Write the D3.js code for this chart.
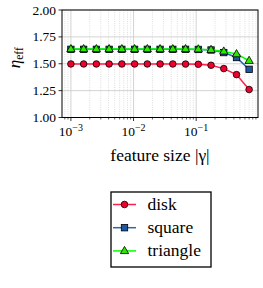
<!DOCTYPE html>
<html>
<head>
<meta charset="utf-8">
<script src="https://cdn.jsdelivr.net/npm/d3@7"></script>
<style>
  html, body { margin: 0; padding: 0; background: #fff; }
  svg text { font-family: "Liberation Serif", "Times New Roman", serif; fill: #000; }
</style>
</head>
<body>
<svg id="chart" width="263" height="288"></svg>
<script>
// feature sizes |gamma|
const featureSize = [0.001, 0.0015973, 0.0025514, 0.0040754, 0.0065097, 0.010398,
    0.016609, 0.02653, 0.042376, 0.067688, 0.10812, 0.1727, 0.27585, 0.44062, 0.7];

const diskEta = [1.498, 1.498, 1.498, 1.498, 1.498, 1.498, 1.498, 1.498, 1.498, 1.497,
    1.495, 1.486, 1.455, 1.399, 1.26];
const squareEta = [1.634, 1.634, 1.634, 1.634, 1.634, 1.634, 1.634, 1.634, 1.634, 1.634,
    1.633, 1.628, 1.604, 1.558, 1.448];
const triangleEta = [1.637, 1.637, 1.637, 1.637, 1.637, 1.637, 1.637, 1.637, 1.637, 1.637,
    1.635, 1.63, 1.615, 1.59, 1.528];

const yTicks = [1.0, 1.25, 1.5, 1.75, 2.0];
const xMajorTicks = [1e-3, 1e-2, 1e-1];
const xTickExp = ["\u22123", "\u22122", "\u22121"];

const series = [
    { name: "disk", values: diskEta, line: "#ff1f4b", face: "#f0002d", marker: "circle" },
    { name: "square", values: squareEta, line: "#2c68ad", face: "#1d58a5", marker: "square" },
    { name: "triangle", values: triangleEta, line: "#00ff00", face: "#2ee600", marker: "triangle" }
];

/***
 * Canvas setup
 */
const svg = d3.select("#chart");
const margin = { top: 10, right: 5, bottom: 170.5, left: 62 };
const width = 263, height = 288;

const xScale = d3.scaleLog()
    .domain([Math.pow(10, -3.142), Math.pow(10, -0.013)])
    .range([margin.left, width - margin.right]);
const yScale = d3.scaleLinear()
    .domain([1.0, 2.0])
    .range([height - margin.bottom, margin.top]);

const x0 = xScale.range()[0], x1 = xScale.range()[1];
const y0 = yScale.range()[0], y1 = yScale.range()[1];

// minor tick values 2..9 x 10^k
const xMinor = [];
[-4, -3, -2, -1].forEach(e => {
    for (let m = 2; m <= 9; m++) {
        const v = m * Math.pow(10, e);
        if (v > xScale.domain()[0] && v < xScale.domain()[1]) xMinor.push(v);
    }
});

/***
 * Grid
 */
const grid = svg.append("g");
grid.selectAll("line.minor")
    .data(xMinor)
    .join("line")
    .attr("class", "minor")
    .attr("x1", d => xScale(d)).attr("x2", d => xScale(d))
    .attr("y1", y1).attr("y2", y0)
    .attr("stroke", "#c8c8c8")
    .attr("stroke-width", 0.6)
    .attr("stroke-dasharray", "1,1.2");
grid.selectAll("line.xmajor")
    .data(xMajorTicks)
    .join("line")
    .attr("class", "xmajor")
    .attr("x1", d => xScale(d)).attr("x2", d => xScale(d))
    .attr("y1", y1).attr("y2", y0)
    .attr("stroke", "#c8c8c8")
    .attr("stroke-width", 0.8);
grid.selectAll("line.ymajor")
    .data(yTicks)
    .join("line")
    .attr("class", "ymajor")
    .attr("x1", x0).attr("x2", x1)
    .attr("y1", d => yScale(d)).attr("y2", d => yScale(d))
    .attr("stroke", "#c8c8c8")
    .attr("stroke-width", 0.8);

/***
 * Series
 */
const line = d3.line()
    .x((d, i) => xScale(featureSize[i]))
    .y(d => yScale(d));

function drawMarker(g, type, cx, cy, face) {
    if (type === "circle") {
        g.append("circle").attr("cx", cx).attr("cy", cy).attr("r", 3.3)
            .attr("fill", face).attr("stroke", "#000").attr("stroke-width", 0.8);
    } else if (type === "square") {
        g.append("rect").attr("x", cx - 3.2).attr("y", cy - 3.2)
            .attr("width", 6.4).attr("height", 6.4)
            .attr("fill", face).attr("stroke", "#000").attr("stroke-width", 0.8);
    } else {
        g.append("path")
            .attr("d", d3.symbol().type(d3.symbolTriangle).size(30)())
            .attr("transform", "translate(" + cx + "," + (cy + 0.3) + ")")
            .attr("fill", face).attr("stroke", "#000").attr("stroke-width", 0.8);
    }
}

const plot = svg.append("g");
series.forEach(s => {
    plot.append("path")
        .datum(s.values)
        .attr("d", line)
        .attr("fill", "none")
        .attr("stroke", s.line)
        .attr("stroke-width", 1.5);
    const mg = plot.append("g");
    s.values.forEach((v, i) => drawMarker(mg, s.marker, xScale(featureSize[i]), yScale(v), s.face));
});

/***
 * Axes
 */
const axes = svg.append("g");
axes.append("rect")
    .attr("x", x0).attr("y", y1)
    .attr("width", x1 - x0).attr("height", y0 - y1)
    .attr("fill", "none").attr("stroke", "#000").attr("stroke-width", 1);

// y ticks
axes.selectAll("line.yt")
    .data(yTicks)
    .join("line")
    .attr("class", "yt")
    .attr("x1", x0).attr("x2", x0 - 3.5)
    .attr("y1", d => yScale(d)).attr("y2", d => yScale(d))
    .attr("stroke", "#000").attr("stroke-width", 0.8);
axes.selectAll("text.yl")
    .data(yTicks)
    .join("text")
    .attr("class", "yl")
    .attr("x", x0 - 6)
    .attr("y", d => yScale(d) + 4.5)
    .attr("text-anchor", "end")
    .attr("font-size", 13.5)
    .text(d => d3.format(".2f")(d));

// x ticks
axes.selectAll("line.xt")
    .data(xMajorTicks)
    .join("line")
    .attr("class", "xt")
    .attr("x1", d => xScale(d)).attr("x2", d => xScale(d))
    .attr("y1", y0).attr("y2", y0 + 3.5)
    .attr("stroke", "#000").attr("stroke-width", 0.8);
axes.selectAll("line.xm")
    .data(xMinor)
    .join("line")
    .attr("class", "xm")
    .attr("x1", d => xScale(d)).attr("x2", d => xScale(d))
    .attr("y1", y0).attr("y2", y0 + 2)
    .attr("stroke", "#000").attr("stroke-width", 0.6);

const xl = axes.selectAll("text.xl")
    .data(xMajorTicks)
    .join("text")
    .attr("class", "xl")
    .attr("x", d => xScale(d))
    .attr("y", y0 + 18.5)
    .attr("text-anchor", "middle")
    .attr("font-size", 13.5);
xl.append("tspan").text("10");
xl.append("tspan")
    .attr("dy", -5)
    .attr("font-size", 10)
    .text((d, i) => xTickExp[i]);

// axis labels
svg.append("text")
    .attr("x", (x0 + x1) / 2)
    .attr("y", y0 + 43.5)
    .attr("text-anchor", "middle")
    .attr("font-size", 17.5)
    .text("feature size |\u03b3|");

const yl = svg.append("text")
    .attr("transform", "translate(20," + ((y0 + y1) / 2 - 6) + ") rotate(-90)")
    .attr("text-anchor", "middle")
    .attr("font-size", 17);
yl.append("tspan").attr("font-style", "italic").text("\u03b7");
yl.append("tspan").attr("dy", 3).attr("font-size", 11.5).text("eff");

/***
 * Legend
 */
const legend = svg.append("g");
legend.append("rect")
    .attr("x", 111).attr("y", 192)
    .attr("width", 100).attr("height", 75)
    .attr("fill", "#fff").attr("stroke", "#000").attr("stroke-width", 1.3);
series.forEach((s, i) => {
    const ly = 204.5 + i * 23.2;
    legend.append("line")
        .attr("x1", 113).attr("x2", 136)
        .attr("y1", ly).attr("y2", ly)
        .attr("stroke", s.line).attr("stroke-width", 1.5);
    drawMarker(legend, s.marker, 124.5, ly, s.face);
    legend.append("text")
        .attr("x", 147.5)
        .attr("y", ly + 5)
        .attr("font-size", 17.5)
        .text(s.name);
});
</script>
</body>
</html>
